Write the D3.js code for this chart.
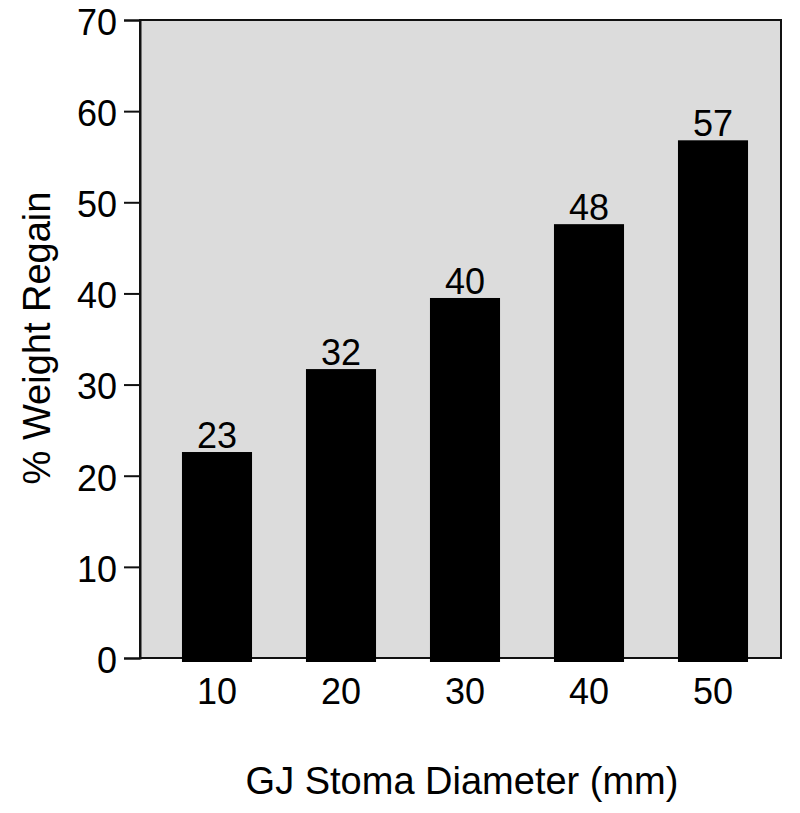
<!DOCTYPE html>
<html>
<head>
<meta charset="utf-8">
<script src="https://cdn.jsdelivr.net/npm/d3@7"></script>
<style>
  body { margin: 0; background: #fff; }
  text { font-family: "Liberation Sans", Arial, sans-serif; fill: #000; }
</style>
</head>
<body>
<div id="chart"></div>
<script>
var width = 800,
    height = 813;

// data
var diameters = ["10", "20", "30", "40", "50"];
var regain = [22.6, 31.7, 39.5, 47.6, 56.8];
var yTicks = [0, 10, 20, 30, 40, 50, 60, 70];

var plot = { left: 140, right: 781, top: 20, bottom: 658 };

var svg = d3.select("#chart").append("svg")
    .attr("width", width)
    .attr("height", height);

var x = d3.scaleBand()
    .domain(diameters)
    .range([155, 775])
    .paddingInner(0.435)
    .paddingOuter(0.2175);

var y = d3.scaleLinear()
    .domain([0, 70])
    .range([plot.bottom, plot.top]);

// grey plot area with frame
svg.append("rect")
    .attr("x", plot.left)
    .attr("y", plot.top)
    .attr("width", plot.right - plot.left)
    .attr("height", plot.bottom - plot.top)
    .attr("fill", "#dcdcdc")
    .attr("stroke", "#111")
    .attr("stroke-width", 2);

// bars
svg.selectAll("rect.bar")
    .data(regain)
  .enter().append("rect")
    .attr("class", "bar")
    .attr("x", function(d, i) { return x(diameters[i]); })
    .attr("y", function(d) { return y(d); })
    .attr("width", x.bandwidth())
    .attr("height", function(d) { return y(0) - y(d) + 4; })
    .attr("fill", "#000");

// value labels
svg.selectAll("text.val")
    .data(regain)
  .enter().append("text")
    .attr("class", "val")
    .attr("x", function(d, i) { return x(diameters[i]) + x.bandwidth() / 2; })
    .attr("y", function(d) { return y(d) - 4; })
    .attr("text-anchor", "middle")
    .style("font-size", "36px")
    .text(function(d) { return d3.format(".0f")(d); });

// y axis
var yAxis = d3.axisLeft(y)
    .tickValues(yTicks)
    .tickSize(16)
    .tickPadding(7);

var gy = svg.append("g")
    .attr("transform", "translate(" + plot.left + ",0)")
    .call(yAxis);
gy.select(".domain").attr("stroke", "#111").attr("stroke-width", 2);
gy.selectAll(".tick line").attr("stroke", "#111").attr("stroke-width", 2);
gy.selectAll(".tick text")
    .style("font-size", "36px")
    .style("font-family", "'Liberation Sans', Arial, sans-serif")
    .attr("dy", "0.4em")
    .attr("fill", "#000");

// x axis labels
var xAxis = d3.axisBottom(x).tickSize(0).tickPadding(20);
var gx = svg.append("g")
    .attr("transform", "translate(0," + plot.bottom + ")")
    .call(xAxis);
gx.select(".domain").remove();
gx.selectAll(".tick text")
    .style("font-size", "36px")
    .style("font-family", "'Liberation Sans', Arial, sans-serif")
    .attr("fill", "#000");

// axis titles
svg.append("text")
    .attr("x", 462)
    .attr("y", 794)
    .attr("text-anchor", "middle")
    .style("font-size", "38px")
    .text("GJ Stoma Diameter (mm)");

svg.append("text")
    .attr("transform", "translate(50,338) rotate(-90)")
    .attr("text-anchor", "middle")
    .style("font-size", "38px")
    .text("% Weight Regain");
</script>
</body>
</html>
